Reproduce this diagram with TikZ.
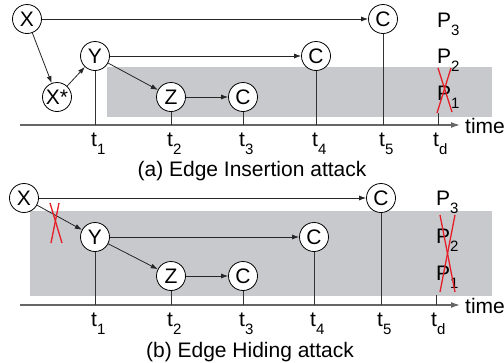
\documentclass[tikz,border=0pt]{standalone}
\usepackage{fontspec}
\setmainfont{Liberation Sans}
\usetikzlibrary{arrows.meta}
% lowered, smaller index used for t_i and P_i
\newcommand{\lsub}[1]{\raisebox{-0.42em}{\fontsize{15}{15}\selectfont #1}}
\definecolor{bandgray}{RGB}{200,201,204}
\definecolor{crossred}{RGB}{230,30,40}
\begin{document}
\begin{tikzpicture}[x=1pt,y=-1pt,
  vert/.style={circle,draw=black,fill=white,minimum size=29pt,inner sep=0pt,
    line width=0.8pt,font=\fontsize{21}{21}\selectfont},
  edge/.style={draw=black!85,line width=0.8pt,-{Latex[length=7pt,width=5pt]}},
  stem/.style={draw=black!80,line width=0.8pt},
  axis/.style={draw=black!60,line width=1.3pt,-{Latex[length=9pt,width=6pt]}},
  lbl/.style={font=\fontsize{21}{21}\selectfont,anchor=base west,inner sep=0pt},
  captext/.style={font=\fontsize{21}{21}\selectfont,anchor=base,inner sep=0pt},
  crossline/.style={draw=crossred,line width=1.3pt}]
\useasboundingbox (0,0) rectangle (504,362);

% ---------------- (a) edge insertion ----------------
\fill[bandgray] (107,67) rectangle (492,117);
\coordinate (a0) at (20,125);
\coordinate (a1) at (460,125);
\draw[axis] (a0) -- (a1);
\node[lbl] (timeA) at (465,133) {time};

\node[vert] (Xa) at (27,19) {X};
\node[vert] (XSa) at (57,97) {X*};
\node[vert] (Ya) at (95,56) {Y};
\node[vert] (Za) at (171,97) {Z};
\node[vert] (C3a) at (243,97) {C};
\node[vert] (C4a) at (316,56) {C};
\node[vert] (C5a) at (383,19) {C};

\draw[edge] (Xa) -- (C5a);
\draw[edge] (Xa) -- (XSa);
\draw[edge] (XSa) -- (Ya);
\draw[edge] (Ya) -- (C4a);
\draw[edge] (Ya) -- (Za);
\draw[edge] (Za) -- (C3a);

\foreach \n in {Ya,Za,C3a,C4a,C5a} \draw[stem] (\n) -- (\n |- a0);
\coordinate (tdA) at (438,113);
\draw[stem] (tdA) -- (tdA |- a0);

\node[lbl] (t1a) at (91,146) {t\lsub{1}};
\node[lbl] (t2a) at (167,146) {t\lsub{2}};
\node[lbl] (t3a) at (239,146) {t\lsub{3}};
\node[lbl] (t4a) at (312,146) {t\lsub{4}};
\node[lbl] (t5a) at (379,146) {t\lsub{5}};
\node[lbl] (tda) at (433,146) {t\lsub{d}};

\node[lbl] (P3a) at (437,27) {P\lsub{3}};
\node[lbl] (P2a) at (437,63) {P\lsub{2}};
\node[lbl] (P1a) at (437,100) {P\lsub{1}};
\draw[crossline] (438,68) -- (452,112);
\draw[crossline] (451,68) -- (437,113);

\node[captext] (capA) at (252,176) {(a) Edge Insertion attack};

% ---------------- (b) edge hiding ----------------
\fill[bandgray] (30,211) rectangle (492,296);
\coordinate (b0) at (20,305);
\coordinate (b1) at (460,305);
\draw[axis] (b0) -- (b1);
\node[lbl] (timeB) at (465,313) {time};

\node[vert] (Xb) at (24,198) {X};
\node[vert] (Yb) at (95,237) {Y};
\node[vert] (Zb) at (171,276) {Z};
\node[vert] (C3b) at (243,276) {C};
\node[vert] (C4b) at (314,237) {C};
\node[vert] (C5b) at (381,198) {C};

\draw[edge] (Xb) -- (C5b);
\draw[edge] (Xb) -- (Yb);
\draw[edge] (Yb) -- (C4b);
\draw[edge] (Yb) -- (Zb);
\draw[edge] (Zb) -- (C3b);

\foreach \n in {Yb,Zb,C3b,C4b,C5b} \draw[stem] (\n) -- (\n |- b0);
\coordinate (tdB) at (436,295);
\draw[stem] (tdB) -- (tdB |- b0);

\node[lbl] (t1b) at (91,326) {t\lsub{1}};
\node[lbl] (t2b) at (167,326) {t\lsub{2}};
\node[lbl] (t3b) at (239,326) {t\lsub{3}};
\node[lbl] (t4b) at (310,326) {t\lsub{4}};
\node[lbl] (t5b) at (377,326) {t\lsub{5}};
\node[lbl] (tdb) at (431,326) {t\lsub{d}};

\node[lbl] (P3b) at (436,205) {P\lsub{3}};
\node[lbl] (P2b) at (436,243) {P\lsub{2}};
\node[lbl] (P1b) at (436,280) {P\lsub{1}};
\draw[crossline] (440,215) -- (455,292);
\draw[crossline] (455,215) -- (440,292);

% the hidden edge X -> Y
\draw[crossline] (50,203) -- (62,243);
\draw[crossline] (59,203) -- (51,243);

\node[captext] (capB) at (250,357) {(b) Edge Hiding attack};
\end{tikzpicture}
\end{document}
